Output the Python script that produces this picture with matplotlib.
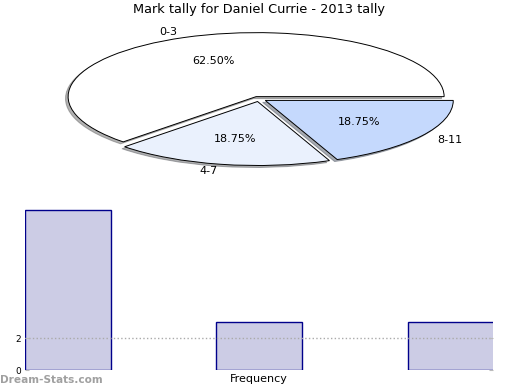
import matplotlib
matplotlib.use('Agg')
import matplotlib.pyplot as plt

# tally data
ranges = ['0-3', '4-7', '8-11']
counts = [10, 3, 3]
pie_colors = ['#ffffff', '#eaf1fd', '#c5d9fd']
title = 'Mark tally for Daniel Currie - 2013 tally'

fig = plt.figure(figsize=(5.2, 3.9), dpi=100)
W, H = 520.0, 390.0

# pie, squashed into an ellipse
cx, cy, rx, ry = 259, 99, 188, 64
lim = 1.3
ax1 = fig.add_axes([(cx - lim*rx)/W, (H - cy - lim*ry)/H, 2*lim*rx/W, 2*lim*ry/H])
wedges, texts, autotexts = ax1.pie(counts, labels=ranges, colors=pie_colors,
                                   explode=[0.04, 0.04, 0.04], autopct='%.2f%%',
                                   startangle=0, counterclock=True,
                                   shadow={'ox': -0.01, 'oy': -0.022, 'shade': 0.6},
                                   wedgeprops={'edgecolor': 'black', 'linewidth': 0.7},
                                   textprops={'fontsize': 8})
ax1.set_aspect('auto')
ax1.set_xlim(-lim, lim)
ax1.set_ylim(-lim, lim)
ax1.axis('off')
fig.text(259/W, 1 - 10/H, title, ha='center', va='center', fontsize=9.3)

# bar chart
ax2 = fig.add_axes([25/W, 20/H, 468/W, 168/H])
pos = [0, 1, 2]
ax2.bar(pos, counts, width=0.45, color='#cccce5', edgecolor='#00008b', linewidth=1, zorder=1)
ax2.set_xlim(-0.225, 2.221)
ax2.set_ylim(0, 10.5)
ax2.set_yticks([0, 2])
ax2.set_xticks([])
ax2.set_axisbelow(False)
ax2.yaxis.grid(True, linestyle=':', color='#aaaaaa', linewidth=1)
ax2.get_ygridlines()[0].set_visible(False)
ax2.tick_params(axis='y', direction='in', left=True, right=True, length=3,
                color='#bbbbbb', labelsize=6.5, pad=3)
for s in ax2.spines.values():
    s.set_visible(False)
ax2.set_xlabel('Frequency', fontsize=8, labelpad=3)

fig.text(0, 10/H, 'Dream-Stats.com', ha='left', va='center', fontsize=7.6,
         fontweight='bold', color='#a0a0a0')

fig.savefig('out.png', dpi=100)
